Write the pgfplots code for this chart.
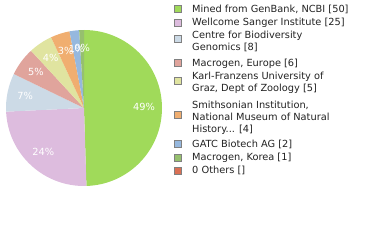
\documentclass[border=0pt]{standalone}
\usepackage{pgfplots}
\usepackage{pgfplotstable}
\pgfplotsset{compat=1.18}
\usetikzlibrary{calc}
\usepackage{fontspec}
\setmainfont{DejaVu Sans}
\definecolor{slice0}{RGB}{160,218,90}
\definecolor{slice1}{RGB}{221,188,222}
\definecolor{slice2}{RGB}{204,218,230}
\definecolor{slice3}{RGB}{224,164,156}
\definecolor{slice4}{RGB}{224,228,160}
\definecolor{slice5}{RGB}{240,174,112}
\definecolor{slice6}{RGB}{150,184,222}
\definecolor{slice7}{RGB}{150,192,110}
\definecolor{slice8}{RGB}{218,112,84}
\definecolor{legtext}{RGB}{34,34,34}
\pgfplotstableread{
value cum
50 0
25 50
8 75
6 83
5 89
4 94
2 98
1 100
0 101
}\piedata
\newcommand{\sw}[2]{\filldraw[fill=#2, draw=black!50, line width=1bp] (axis cs:174.5,{240-#1+3.5}) rectangle (axis cs:181.5,{240-#1-3.5});}
\newcommand{\lt}[2]{\node[anchor=west, inner sep=0pt, text height=7bp, text depth=0pt, text=legtext] at (axis cs:192,{240-#1}) {#2};}
\begin{document}
\fontsize{9.8bp}{12bp}\selectfont
\begin{tikzpicture}
\begin{axis}[
  scale only axis, width=380bp, height=240bp,
  xmin=0, xmax=380, ymin=0, ymax=240,
  hide axis, clip=false,
]
\path (axis cs:0,0) rectangle (axis cs:380,240);
\pgfplotsextra{
  \foreach \i in {0,...,8}{
    \pgfplotstablegetelem{\i}{value}\of\piedata \let\v\pgfplotsretval
    \pgfplotstablegetelem{\i}{cum}\of\piedata \let\c\pgfplotsretval
    \pgfmathsetmacro\sa{90-3.564356*\c}
    \pgfmathsetmacro\ea{90-3.564356*(\c+\v)}
    \ifdim\v pt>0pt
      \fill[slice\i] (axis cs:84,132) -- ++(\sa:78bp) arc[start angle=\sa, end angle=\ea, radius=78bp] -- cycle;
    \fi
  }
  \foreach \i in {0,...,8}{
    \pgfplotstablegetelem{\i}{value}\of\piedata \let\v\pgfplotsretval
    \pgfplotstablegetelem{\i}{cum}\of\piedata \let\c\pgfplotsretval
    \pgfmathsetmacro\ma{90-3.564356*(\c+\v/2)}
    \pgfmathtruncatemacro\p{0.990099*\v}
    \ifdim\v pt>0pt
      \node[text=white, inner sep=0pt, font=\fontsize{9.8bp}{12bp}\selectfont] at ($(axis cs:84,132)+(\ma:60bp)$) {\p\%};
    \fi
  }
}
\sw{9.5}{slice0}
\sw{23}{slice1}
\sw{39.5}{slice2}
\sw{63.5}{slice3}
\sw{81}{slice4}
\sw{114.7}{slice5}
\sw{144.5}{slice6}
\sw{158}{slice7}
\sw{171.3}{slice8}
\lt{9.3}{Mined from GenBank, NCBI [50]}
\lt{22.3}{Wellcome Sanger Institute [25]}
\lt{35}{Centre for Biodiversity}
\lt{46.7}{Genomics [8]}
\lt{62.7}{Macrogen, Europe [6]}
\lt{76.3}{Karl-Franzens University of}
\lt{88.3}{Graz, Dept of Zoology [5]}
\lt{105.3}{Smithsonian Institution,}
\lt{117.3}{National Museum of Natural}
\lt{129.3}{History... [4]}
\lt{144}{GATC Biotech AG [2]}
\lt{157}{Macrogen, Korea [1]}
\lt{170.3}{0 Others []}
\end{axis}
\end{tikzpicture}
\end{document}
